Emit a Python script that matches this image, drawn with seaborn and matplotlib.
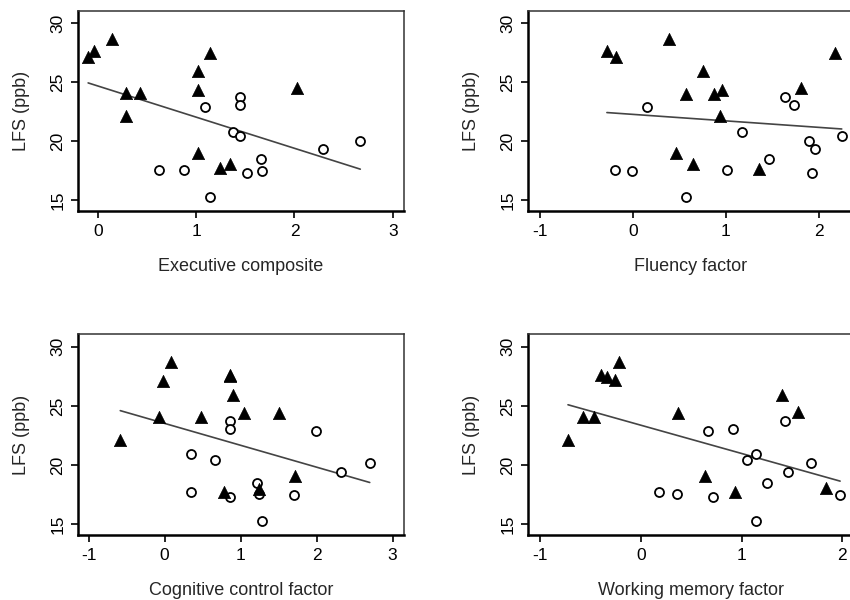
import matplotlib
matplotlib.use("Agg")
import matplotlib.pyplot as plt
import seaborn as sns
import pandas as pd
import numpy as np

# ---------------- data ----------------
ylabel_text = "LFS (ppb)"
panel_titles = ["Executive composite", "Fluency factor",
                "Cognitive control factor", "Working memory factor"]

# Executive composite
exec_tri_x = [-0.10, -0.045, 0.14, 0.29, 0.43, 0.285, 1.016, 1.016, 1.14, 1.016, 1.24, 1.345, 2.03]
exec_tri_y = [27.17, 27.65, 28.67, 24.07, 24.07, 22.17, 25.96, 24.35, 27.5, 19.03, 17.7, 18.05, 24.54]
exec_cir_x = [0.62, 0.874, 1.087, 1.14, 1.378, 1.443, 1.443, 1.45, 1.517, 1.66, 1.673, 2.29, 2.67]
exec_cir_y = [17.57, 17.57, 22.91, 15.3, 20.76, 23.78, 23.05, 20.45, 17.31, 18.47, 17.46, 19.35, 20.05]

# Fluency factor
flu_tri_x = [-0.279, -0.183, 0.39, 0.569, 0.759, 0.877, 0.959, 0.934, 0.465, 0.644, 1.353, 1.815, 2.173]
flu_tri_y = [27.65, 27.17, 28.67, 24.04, 25.96, 24.04, 24.35, 22.17, 19.03, 18.05, 17.65, 24.49, 27.5]
flu_cir_x = [0.154, -0.19, -0.011, 0.573, 1.01, 1.174, 1.464, 1.633, 1.736, 1.901, 1.958, 1.923, 2.248]
flu_cir_y = [22.91, 17.57, 17.46, 15.3, 17.57, 20.76, 18.47, 23.78, 23.05, 20.05, 19.35, 17.31, 20.47]

# Cognitive control factor
cog_tri_x = [-0.584, -0.077, -0.02, 0.085, 0.484, 0.855, 0.855, 0.896, 1.04, 1.508, 1.713, 0.782, 1.237]
cog_tri_y = [22.11, 24.02, 27.1, 28.67, 24.02, 27.5, 27.65, 25.91, 24.36, 24.42, 19.06, 17.68, 17.96]
cog_cir_x = [0.348, 0.663, 0.348, 0.856, 0.856, 0.856, 1.211, 1.237, 1.285, 1.705, 1.998, 2.327, 2.699]
cog_cir_y = [20.89, 20.41, 17.71, 23.74, 23.04, 17.31, 18.44, 17.54, 15.28, 17.45, 22.9, 19.43, 20.13]

# Working memory factor
wm_tri_x = [-0.723, -0.575, -0.462, -0.393, -0.337, -0.261, -0.221, 0.367, 0.638, 0.938, 1.407, 1.563, 1.843]
wm_tri_y = [22.11, 24.08, 24.08, 27.6, 27.46, 27.18, 28.67, 24.36, 19.06, 17.68, 25.91, 24.45, 18.02]
wm_cir_x = [0.178, 0.36, 0.717, 0.671, 0.915, 1.054, 1.14, 1.14, 1.255, 1.427, 1.457, 1.695, 1.979]
wm_cir_y = [17.71, 17.57, 17.26, 22.9, 23.04, 20.41, 20.89, 15.28, 18.44, 23.74, 19.43, 20.13, 17.45]

y_ticks = [15, 20, 25, 30]
x_ticks = [[0, 1, 2, 3], [-1, 0, 1, 2], [-1, 0, 1, 2, 3], [-1, 0, 1, 2]]

# ---------------- layout ----------------
sns.set_theme(style="white")
plt.rcParams['font.family'] = ['Liberation Sans', 'DejaVu Sans']

fig = plt.figure(figsize=(8.5, 6), dpi=100)

positions = [[0.0918, 0.6483, 0.3835, 0.3333],
             [0.6212, 0.6483, 0.3835, 0.3333],
             [0.0918, 0.1083, 0.3835, 0.3345],
             [0.6212, 0.1083, 0.3835, 0.3345]]
xlims = [(-0.203, 3.115), (-1.128, 2.38), (-1.14, 3.15), (-1.12, 2.117)]
ylim = (14.07, 31.05)

panels = [(exec_tri_x, exec_tri_y, exec_cir_x, exec_cir_y),
          (flu_tri_x, flu_tri_y, flu_cir_x, flu_cir_y),
          (cog_tri_x, cog_tri_y, cog_cir_x, cog_cir_y),
          (wm_tri_x, wm_tri_y, wm_cir_x, wm_cir_y)]

for i, (tx, ty, cx, cy) in enumerate(panels):
    ax = fig.add_axes(positions[i])
    df = pd.DataFrame({
        "x": list(tx) + list(cx),
        "y": list(ty) + list(cy),
        "grp": ["tri"] * len(tx) + ["cir"] * len(cx),
    })
    sns.regplot(data=df, x="x", y="y", scatter=False, ci=None, ax=ax,
                color="#444444", line_kws={"lw": 1.2}, truncate=True)
    sns.scatterplot(data=df[df.grp == "cir"], x="x", y="y", ax=ax,
                    marker="o", s=42, facecolor="white", edgecolor="black",
                    linewidth=1.3, zorder=3)
    sns.scatterplot(data=df[df.grp == "tri"], x="x", y="y", ax=ax,
                    marker="^", s=78, color="black", edgecolor="black",
                    linewidth=0.5, zorder=4)
    ax.set_xlim(*xlims[i])
    ax.set_ylim(*ylim)
    ax.set_xticks(x_ticks[i])
    ax.set_xticklabels([str(t) for t in x_ticks[i]])
    ax.set_yticks(y_ticks)
    ax.set_yticklabels([str(t) for t in y_ticks], rotation=90, va="center")
    ax.tick_params(axis="both", direction="out", length=5, width=1.2,
                   colors="black", labelsize=12.5, pad=4,
                   bottom=True, left=True)
    for side in ["left", "bottom"]:
        ax.spines[side].set_linewidth(1.8)
        ax.spines[side].set_color("black")
    for side in ["top", "right"]:
        ax.spines[side].set_linewidth(1.1)
        ax.spines[side].set_color("#333333")
    ax.set_xlabel(panel_titles[i], fontsize=13, labelpad=14)
    ax.set_ylabel(ylabel_text, fontsize=13, labelpad=15)
    ax.grid(False)

fig.savefig("out.png", dpi=100)
